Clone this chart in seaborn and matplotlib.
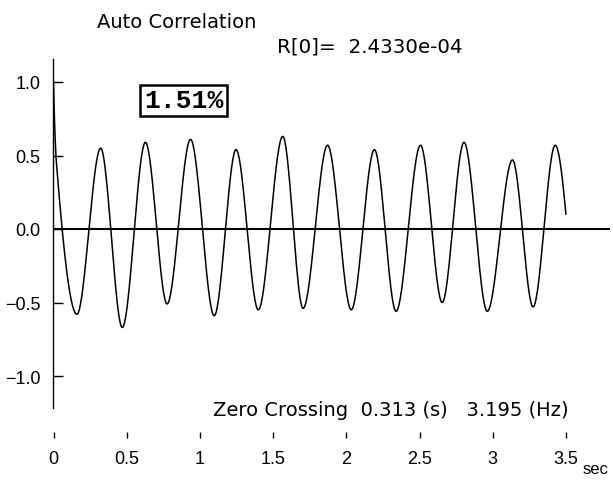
import numpy as np
import pandas as pd
import matplotlib
matplotlib.use("Agg")
import matplotlib.pyplot as plt
import seaborn as sns

# ---- data ----
# extrema / knot points of the auto-correlation curve (lag in s, normalised value)
lag_knots = [0.0, 0.008, 0.02, 0.16, 0.322, 0.47, 0.628, 0.776, 0.936, 1.098,
             1.247, 1.399, 1.566, 1.705, 1.872, 2.034, 2.192, 2.34, 2.507,
             2.655, 2.804, 2.963, 3.135, 3.276, 3.427, 3.5]
acf_knots = [1.0, 0.70, 0.45, -0.58, 0.55, -0.67, 0.59, -0.51, 0.61, -0.59,
             0.54, -0.55, 0.63, -0.54, 0.57, -0.55, 0.54, -0.56, 0.57,
             -0.50, 0.59, -0.56, 0.47, -0.53, 0.57, 0.10]
x_ticks = [0, 0.5, 1, 1.5, 2, 2.5, 3, 3.5]
x_tick_labels = ["0", "0.5", "1", "1.5", "2", "2.5", "3", "3.5"]
y_ticks = [1.0, 0.5, 0.0, -0.5, -1.0]
y_tick_labels = ["1.0", "0.5", "0.0", "\u22120.5", "\u22121.0"]
title_text = "Auto Correlation"
r0_text = "R[0]=  2.4330e-04"
damping_text = "1.51%"
zero_cross_text = "Zero Crossing  0.313 (s)   3.195 (Hz)"
unit_text = "sec"


def pchip_render(x, y, n_per_seg=40):
    """Shape-preserving smooth rendering through the knots."""
    x = np.asarray(x, float)
    y = np.asarray(y, float)
    h = np.diff(x)
    delta = np.diff(y) / h
    n = len(x)
    d = np.zeros(n)
    for k in range(1, n - 1):
        if delta[k - 1] * delta[k] > 0:
            w1 = 2 * h[k] + h[k - 1]
            w2 = h[k] + 2 * h[k - 1]
            d[k] = (w1 + w2) / (w1 / delta[k - 1] + w2 / delta[k])

    def end(h0, h1, d0, d1):
        v = ((2 * h0 + h1) * d0 - h0 * d1) / (h0 + h1)
        if np.sign(v) != np.sign(d0):
            v = 0.0
        elif np.sign(d0) != np.sign(d1) and abs(v) > abs(3 * d0):
            v = 3 * d0
        return v

    d[0] = end(h[0], h[1], delta[0], delta[1])
    d[-1] = end(h[-1], h[-2], delta[-1], delta[-2])
    xs, ys = [], []
    for k in range(n - 1):
        s = np.linspace(0, 1, n_per_seg, endpoint=(k == n - 2))
        h00 = 2 * s**3 - 3 * s**2 + 1
        h10 = s**3 - 2 * s**2 + s
        h01 = -2 * s**3 + 3 * s**2
        h11 = s**3 - s**2
        xs.append(x[k] + s * h[k])
        ys.append(h00 * y[k] + h10 * h[k] * d[k] + h01 * y[k + 1] + h11 * h[k] * d[k + 1])
    return np.concatenate(xs), np.concatenate(ys)


lag_curve, acf_curve = pchip_render(lag_knots, acf_knots)
df = pd.DataFrame({"lag": lag_curve, "acf": acf_curve})

sns.set_theme(style="white")
plt.rcParams["font.family"] = ["Liberation Sans", "DejaVu Sans"]

W, H = 613, 485
fig = plt.figure(figsize=(W / 100, H / 100), dpi=100)
fig.patch.set_facecolor("white")

left_px, right_px, top_px, bottom_px = 53, 610, 60, 439
ax = fig.add_axes([left_px / W, 1 - bottom_px / H,
                   (right_px - left_px) / W, (bottom_px - top_px) / H])
ax.set_facecolor("white")

# y: value 0 at px 230, 147 px per unit
y0_px, px_per_unit = 230, 147.0
ax.set_ylim((y0_px - bottom_px) / px_per_unit, (y0_px - top_px) / px_per_unit)
# x: 0 s at px 53.5, 146.4 px per second
x0_px, px_per_sec = 53.5, 146.4
ax.set_xlim((left_px - x0_px) / px_per_sec, (right_px - x0_px) / px_per_sec)

sns.lineplot(data=df, x="lag", y="acf", ax=ax, color="black", linewidth=1.1,
             sort=False, estimator=None)
ax.axhline(0, color="black", linewidth=1.5, zorder=1)

for s in ["top", "right", "bottom"]:
    ax.spines[s].set_visible(False)
ax.spines["left"].set_color("black")
ax.spines["left"].set_linewidth(1.0)
ax.spines["left"].set_bounds((y0_px - 409) / px_per_unit, (y0_px - top_px) / px_per_unit)

ax.set_yticks(y_ticks)
ax.set_yticklabels(y_tick_labels)
ax.set_xticks(x_ticks)
ax.set_xticklabels(x_tick_labels)
ax.tick_params(axis="y", direction="in", length=7, width=1.0, color="black",
               pad=9, labelsize=13, labelcolor="black", left=True)
ax.tick_params(axis="x", direction="in", length=4, width=1.0, color="black",
               pad=8.6, labelsize=13, labelcolor="black", bottom=True)
ax.set_xlabel("")
ax.set_ylabel("")
ax.grid(False)


def fx(px):
    return px / W


def fy(px):
    return 1 - px / H


fig.text(fx(97), fy(22), title_text, fontsize=14, ha="left", va="center",
         color="black", family=["DejaVu Sans"])
fig.text(fx(277), fy(47), r0_text, fontsize=14.3, ha="left", va="center",
         color="black", family=["DejaVu Sans"])
fig.text(fx(183.5), fy(101.5), damping_text, fontsize=19, ha="center", va="center",
         color="black", family=["Liberation Mono"], fontweight="bold",
         bbox=dict(boxstyle="square,pad=0.15", fc="white", ec="black", lw=1.8))
fig.text(fx(213), fy(411), zero_cross_text, fontsize=14, ha="left", va="center",
         color="black", family=["DejaVu Sans"])
fig.text(fx(583), fy(470), unit_text, fontsize=12, ha="left", va="center",
         color="black", family=["Liberation Sans"])

fig.savefig("out.png", dpi=100, facecolor="white")
